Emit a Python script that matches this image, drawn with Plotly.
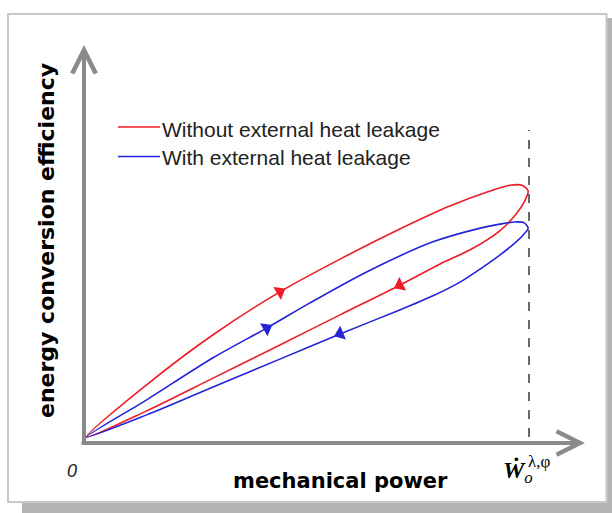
import numpy as np
import plotly.graph_objects as go

# ---------------- data (normalised: x = W / W_o^{λ,φ}) ----------------
series_names = ["Without external heat leakage", "With external heat leakage"]
series_colors = ["#ee1c24", "#2323d8"]

# red loop (without heat leakage): outgoing upper branch, returning lower branch
red_up_x = [0.0, 0.136, 0.286, 0.437, 0.573, 0.708, 0.821, 0.912, 0.957, 0.984, 0.998]
red_up_y = [0.0, 0.118, 0.231, 0.328, 0.402, 0.470, 0.522, 0.556, 0.569, 0.569, 0.556]
red_lo_x = [0.998, 0.989, 0.971, 0.934, 0.867, 0.799, 0.708, 0.573, 0.437, 0.286, 0.136, 0.0]
red_lo_y = [0.556, 0.531, 0.504, 0.466, 0.423, 0.391, 0.343, 0.276, 0.208, 0.133, 0.059, 0.0]

# blue loop (with heat leakage)
blue_up_x = [0.0, 0.136, 0.286, 0.407, 0.505, 0.633, 0.783, 0.890, 0.934, 0.968, 0.989, 0.998]
blue_up_y = [0.0, 0.084, 0.179, 0.246, 0.303, 0.373, 0.441, 0.472, 0.481, 0.486, 0.484, 0.472]
blue_lo_x = [0.998, 0.989, 0.971, 0.934, 0.896, 0.844, 0.783, 0.708, 0.573, 0.437, 0.286, 0.136, 0.0]
blue_lo_y = [0.472, 0.459, 0.441, 0.411, 0.384, 0.350, 0.319, 0.287, 0.233, 0.176, 0.113, 0.050, 0.0]

# index of the point on each branch that carries a direction arrow
arrow_idx = {"red_up": 3, "red_lo": 6, "blue_up": 3, "blue_lo": 8}

w_max = 1.0          # W_o^{λ,φ}
w_max_line_top = 0.694

# ---------------- layout helpers (pixel <-> data) ----------------
W, H = 612, 513
X0_PX, Y0_PX, SCALE = 86.5, 437.0, 442.5
x_range = [(0 - X0_PX) / SCALE, (W - X0_PX) / SCALE]
y_range = [(Y0_PX - H) / SCALE, (Y0_PX - 0) / SCALE]


def dx(px):
    return (px - X0_PX) / SCALE


def dy(py):
    return (Y0_PX - py) / SCALE


def px_paper(px):
    return px / W


def py_paper(py):
    return 1 - py / H


fig = go.Figure()

loops = [
    (red_up_x, red_up_y, red_lo_x, red_lo_y, series_colors[0], series_names[0], "red"),
    (blue_up_x, blue_up_y, blue_lo_x, blue_lo_y, series_colors[1], series_names[1], "blue"),
]

for ux, uy, lx, ly, col, name, key in loops:
    fig.add_trace(go.Scatter(
        x=ux + lx[1:], y=uy + ly[1:], mode="lines", name=name, showlegend=False,
        line=dict(color=col, width=1.6, shape="spline", smoothing=0.8),
        hoverinfo="skip",
    ))
    for suffix, xs, ys in (("_up", ux, uy), ("_lo", lx, ly)):
        i = arrow_idx[key + suffix]
        ddx = xs[i + 1] - xs[i - 1]
        ddy = ys[i + 1] - ys[i - 1]
        ang = 90 - np.degrees(np.arctan2(ddy, ddx))
        fig.add_trace(go.Scatter(
            x=[xs[i]], y=[ys[i]], mode="markers", showlegend=False,
            marker=dict(symbol="triangle-up", size=13, color=col, angle=float(ang),
                        line=dict(width=0)),
            hoverinfo="skip",
        ))

# dashed vertical line at W_o
fig.add_trace(go.Scatter(
    x=[w_max, w_max], y=[0, w_max_line_top], mode="lines", showlegend=False,
    line=dict(color="#444444", width=1.6, dash="dash"), hoverinfo="skip",
))

# ---------------- frame and shadow ----------------
shapes = []
shapes.append(dict(type="rect", xref="paper", yref="paper",
                   x0=px_paper(607), x1=px_paper(612), y0=py_paper(513), y1=py_paper(18),
                   fillcolor="#b4b4b4", line=dict(width=0), layer="below"))
shapes.append(dict(type="rect", xref="paper", yref="paper",
                   x0=px_paper(22), x1=px_paper(612), y0=py_paper(513), y1=py_paper(503),
                   fillcolor="#b4b4b4", line=dict(width=0), layer="below"))
shapes.append(dict(type="rect", xref="paper", yref="paper",
                   x0=px_paper(8), x1=px_paper(606.5), y0=py_paper(502), y1=py_paper(14),
                   fillcolor="rgba(0,0,0,0)", line=dict(color="#c8c8c8", width=2),
                   layer="below"))
for col, lyy in zip(series_colors, [127, 156.5]):
    shapes.append(dict(type="line", xref="paper", yref="paper",
                       x0=px_paper(118), x1=px_paper(160), y0=py_paper(lyy), y1=py_paper(lyy),
                       line=dict(color=col, width=1.6)))

annotations = []
annotations.append(dict(x=dx(585), y=dy(443), ax=dx(80), ay=dy(443),
                        xref="x", yref="y", axref="x", ayref="y", text="",
                        showarrow=True, arrowhead=5, arrowsize=1.15, arrowwidth=4,
                        arrowcolor="#8a8a8a", standoff=0, startstandoff=0))
annotations.append(dict(x=dx(84), y=dy(45), ax=dx(84), ay=dy(445),
                        xref="x", yref="y", axref="x", ayref="y", text="",
                        showarrow=True, arrowhead=5, arrowsize=1.15, arrowwidth=4,
                        arrowcolor="#8a8a8a", standoff=0, startstandoff=0))

annotations.append(dict(x=px_paper(340), y=py_paper(481), xref="paper", yref="paper",
                        text="<b>mechanical power</b>", showarrow=False,
                        font=dict(family="DejaVu Sans", size=21, color="black"),
                        xanchor="center", yanchor="middle"))
annotations.append(dict(x=px_paper(46), y=py_paper(241), xref="paper", yref="paper",
                        text="<b>energy conversion efficiency</b>", showarrow=False,
                        textangle=-90,
                        font=dict(family="DejaVu Sans", size=22, color="black"),
                        xanchor="center", yanchor="middle"))
annotations.append(dict(x=px_paper(72), y=py_paper(471), xref="paper", yref="paper",
                        text="<i>0</i>", showarrow=False,
                        font=dict(family="Liberation Sans", size=18, color="#222222"),
                        xanchor="center", yanchor="middle"))
annotations.append(dict(x=px_paper(501), y=py_paper(472), xref="paper", yref="paper",
                        text="<b><i>Ẇ</i></b><sub><i>o</i></sub>", showarrow=False,
                        font=dict(family="Liberation Serif", size=24, color="black"),
                        xanchor="left", yanchor="middle"))
annotations.append(dict(x=px_paper(526), y=py_paper(461), xref="paper", yref="paper",
                        text="λ,φ", showarrow=False,
                        font=dict(family="Liberation Serif", size=17, color="black"),
                        xanchor="left", yanchor="middle"))
for name, lyy in zip(series_names, [129, 157]):
    annotations.append(dict(x=px_paper(160), y=py_paper(lyy), xref="paper", yref="paper",
                            text=name, showarrow=False,
                            font=dict(family="Liberation Sans", size=21, color="#222222"),
                            xanchor="left", yanchor="middle"))

fig.update_layout(
    width=W, height=H,
    margin=dict(l=0, r=0, t=0, b=0, pad=0),
    paper_bgcolor="white", plot_bgcolor="white",
    xaxis=dict(range=x_range, visible=False, fixedrange=True),
    yaxis=dict(range=y_range, visible=False, fixedrange=True),
    shapes=shapes, annotations=annotations, showlegend=False,
)

fig.write_html("out.html", config={"displayModeBar": False},
               post_script="document.body.style.margin='0';document.body.style.overflow='hidden';")
